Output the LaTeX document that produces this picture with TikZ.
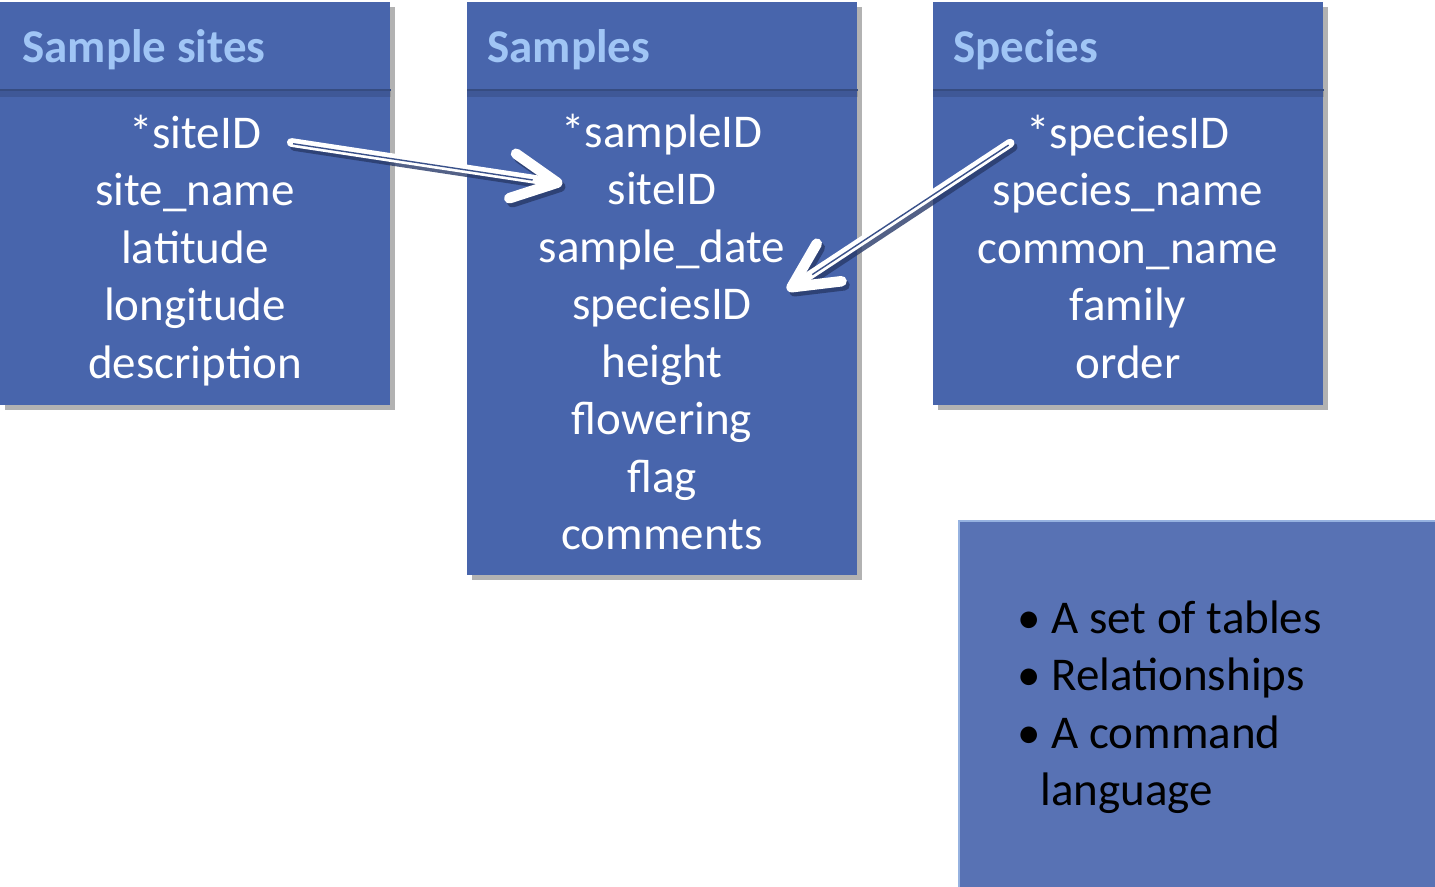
\documentclass[tikz,border=0pt]{standalone}
\usepackage{fontspec}
\setmainfont{Carlito}
\usetikzlibrary{arrows.meta, positioning, calc, shadows}
\definecolor{tablecolor}{RGB}{72,101,172}
\definecolor{headcolor}{RGB}{160,197,245}
\definecolor{notecolor}{RGB}{88,114,180}
\definecolor{noteborder}{RGB}{150,178,224}
\definecolor{arrowshade}{RGB}{40,58,105}
\newcommand{\bigfont}{\fontsize{26.75}{32}\selectfont}

\begin{document}
\begin{tikzpicture}[
    x=0.02cm, y=-0.02cm,
    tablebox/.style={anchor=north west, fill=tablecolor, minimum width=7.8cm, inner sep=0pt,
        drop shadow={shadow xshift=2.5pt, shadow yshift=-2.5pt, opacity=0.3, fill=black}},
    headtext/.style={anchor=base west, inner sep=0pt, text=headcolor, font=\bigfont\bfseries},
    headline/.style={draw=tablecolor!75!black, line width=1.2pt},
    headshade/.style={draw=black, opacity=0.12, line width=4pt},
    row/.style={anchor=base, inner sep=0pt, text=white, font=\bigfont},
    notebox/.style={anchor=north west, fill=notecolor, draw=noteborder, line width=1.2pt,
        minimum width=9.7cm, minimum height=7.5cm},
    pointtext/.style={anchor=base west, inner sep=0pt, text=black, font=\bigfont},
    relshade/.style={draw=arrowshade, opacity=0.8, line width=5pt, line cap=round,
        -{Straight Barb[length=0.9cm, width=0.9cm, line width=6pt, round]}},
    relarrow/.style={draw=white, line width=5pt, line cap=round,
        -{Straight Barb[length=0.9cm, width=0.9cm, line width=6pt, round]}},
    relinner/.style={draw=tablecolor!80!black, line width=0.8pt, shorten >=0.6cm, shorten <=1pt}
]
    \useasboundingbox (0,0) rectangle (1435,886);

    % Tables
    \node[tablebox, minimum height=8.06cm] (sites) at (0,2) {};
    \node[tablebox, minimum height=11.46cm] (samples) at (467,2) {};
    \node[tablebox, minimum height=8.06cm] (species) at (933,2) {};

    % Headers
    \node[headtext] (sites-head) at (22,62) {Sample sites};
    \node[headtext] (samples-head) at (487,62) {Samples};
    \node[headtext] (species-head) at (953,62) {Species};
    \foreach \t in {sites, samples, species} {
        \draw[headshade] ($(\t.north west)+(0,91)$) -- ($(\t.north east)+(0,91)$);
        \draw[headline] ($(\t.north west)+(0,88)$) -- ($(\t.north east)+(0,88)$);
    }

    % Fields
    \foreach \f [count=\i] in {*siteID, site\_name, latitude, longitude, description}
        \node[row] (sites-\i) at (195, {148+57.5*(\i-1)}) {\f};
    \foreach \f [count=\i] in {*sampleID, siteID, sample\_date, speciesID, height, flowering, flag, comments}
        \node[row] (samples-\i) at (662, {147+57.5*(\i-1)}) {\f};
    \foreach \f [count=\i] in {*speciesID, species\_name, common\_name, family, order}
        \node[row] (species-\i) at (1128, {148+57.5*(\i-1)}) {\f};

    % Notes
    \node[notebox] (notes) at (958,520) {};
    \foreach \p [count=\i] in {A set of tables, Relationships, A command}
        \node[pointtext] (point-\i) at (1017, {633+57.5*(\i-1)}) {• \p};
    \node[pointtext] (point-4) at (1040,805) {language};

    % Relationships
    \coordinate (site-from) at ($(sites-1.east)+(30,11)$);
    \coordinate (site-to) at ($(samples-2.west)+(-45,-5)$);
    \coordinate (spec-from) at ($(species-1.west)+(-16,8)$);
    \coordinate (spec-to) at ($(samples-4.east)+(35,-17)$);
    \foreach \a/\b in {site-from/site-to, spec-from/spec-to} {
        \draw[relshade] ($(\a)+(3,4)$) -- ($(\b)+(3,4)$);
        \draw[relarrow] (\a) -- (\b);
        \draw[relinner] ($(\a)+(0,1)$) -- ($(\b)+(0,1)$);
    }

\end{tikzpicture}
\end{document}
